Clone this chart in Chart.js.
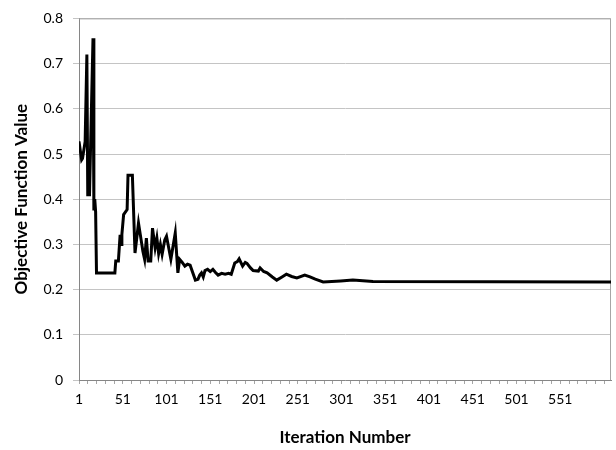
<!DOCTYPE html>
<html>
<head>
<meta charset="utf-8">
<script src="https://cdn.jsdelivr.net/npm/chart.js@4"></script>
<style>
  body { margin: 0; background: #fff; }
  canvas { display: block; }
</style>
</head>
<body>
<canvas id="chart" width="616" height="450"></canvas>
<script>
/* ========== Data ========== */
// iteration numbers where the trace changes direction
const iterations = [1, 4, 5, 8, 10, 11, 13, 17, 18, 19, 20, 21,
  42, 43, 46, 48, 49, 50, 52, 56, 57, 62,
  65, 69, 72, 74, 76, 78, 80, 83, 85, 88,
  90, 92, 94, 96, 99, 101, 106, 111, 114, 116,
  119, 122, 125, 128, 134, 137, 139, 141, 143, 145,
  148, 151, 154, 157, 160, 164, 168, 172, 175, 179,
  182, 184, 188, 191, 193, 197, 200, 206, 208, 212,
  216, 222, 227, 233, 238, 244, 250, 259, 265, 271,
  280, 300, 314, 337, 609];
const objective = [0.528, 0.487, 0.49, 0.527, 0.72, 0.41, 0.41, 0.756, 0.375, 0.40, 0.372, 0.237,
  0.237, 0.263, 0.263, 0.321, 0.30, 0.322, 0.366, 0.377, 0.453, 0.453,
  0.281, 0.347, 0.31, 0.285, 0.267, 0.314, 0.263, 0.263, 0.336, 0.292,
  0.314, 0.28, 0.30, 0.278, 0.31, 0.318, 0.267, 0.325, 0.237, 0.267,
  0.26, 0.252, 0.256, 0.254, 0.221, 0.223, 0.232, 0.237, 0.228, 0.242,
  0.245, 0.240, 0.245, 0.238, 0.232, 0.236, 0.234, 0.236, 0.234, 0.259,
  0.262, 0.268, 0.252, 0.26, 0.258, 0.248, 0.242, 0.241, 0.248, 0.240,
  0.237, 0.228, 0.221, 0.228, 0.234, 0.229, 0.226, 0.232, 0.228, 0.223,
  0.217, 0.219, 0.221, 0.218, 0.217];
const xTickLabels = [1, 51, 101, 151, 201, 251, 301, 351, 401, 451, 501, 551];
const lastIteration = 609;

// small tick marks every 10 iterations, labels every 50
const xTickMarks = [];
for (let v = 1; v <= lastIteration; v += 10) xTickMarks.push(v);

const FONT = 'Lato, "Open Sans", sans-serif';

/* ========== Plot area frame (top + right) ========== */
const frame = {
  id: 'frame',
  beforeDatasetsDraw(chart) {
    const { ctx, chartArea: a } = chart;
    ctx.save();
    ctx.strokeStyle = '#a6a6a6';
    ctx.lineWidth = 1;
    ctx.beginPath();
    ctx.moveTo(a.left, a.top + 0.5);
    ctx.lineTo(a.right - 0.5, a.top + 0.5);
    ctx.lineTo(a.right - 0.5, a.bottom);
    ctx.stroke();
    ctx.restore();
  }
};

/* ========== Chart ========== */
new Chart(document.getElementById('chart'), {
  type: 'line',
  data: {
    datasets: [{
      data: iterations.map((x, i) => ({ x, y: objective[i] })),
      borderColor: '#000',
      borderWidth: 3,
      pointRadius: 0,
      tension: 0,
      fill: false
    }]
  },
  options: {
    responsive: false,
    animation: false,
    layout: { padding: { top: 15, right: 5, bottom: 0, left: 0 } },
    plugins: { legend: { display: false }, tooltip: { enabled: false } },
    scales: {
      x: {
        type: 'linear',
        min: 1,
        max: lastIteration,
        afterBuildTicks: s => { s.ticks = xTickMarks.map(value => ({ value })); },
        afterFit: s => { s.height = 70; },
        grid: { drawOnChartArea: false, tickLength: 4, color: '#a6a6a6' },
        border: { color: '#868686' },
        ticks: {
          autoSkip: false,
          maxRotation: 0,
          padding: 7,
          color: '#000',
          font: { family: FONT, size: 14 },
          callback: v => xTickLabels.includes(v) ? String(v) : ''
        },
        title: {
          display: true,
          text: 'Iteration Number',
          color: '#000',
          font: { family: FONT, size: 17, weight: 'bold' },
          padding: { top: 0, bottom: 2 }
        }
      },
      y: {
        min: 0,
        max: 0.8,
        afterFit: s => { s.width = 79; },
        grid: { color: '#c4c4c4', tickLength: 6 },
        border: { color: '#868686' },
        ticks: {
          stepSize: 0.1,
          padding: 10,
          color: '#000',
          font: { family: FONT, size: 14 },
          callback: v => String(+v.toFixed(1))
        },
        title: {
          display: true,
          text: 'Objective Function Value',
          color: '#000',
          font: { family: FONT, size: 17, weight: 'bold' },
          padding: { top: 11, bottom: 0 }
        }
      }
    }
  },
  plugins: [frame]
});
</script>
</body>
</html>
